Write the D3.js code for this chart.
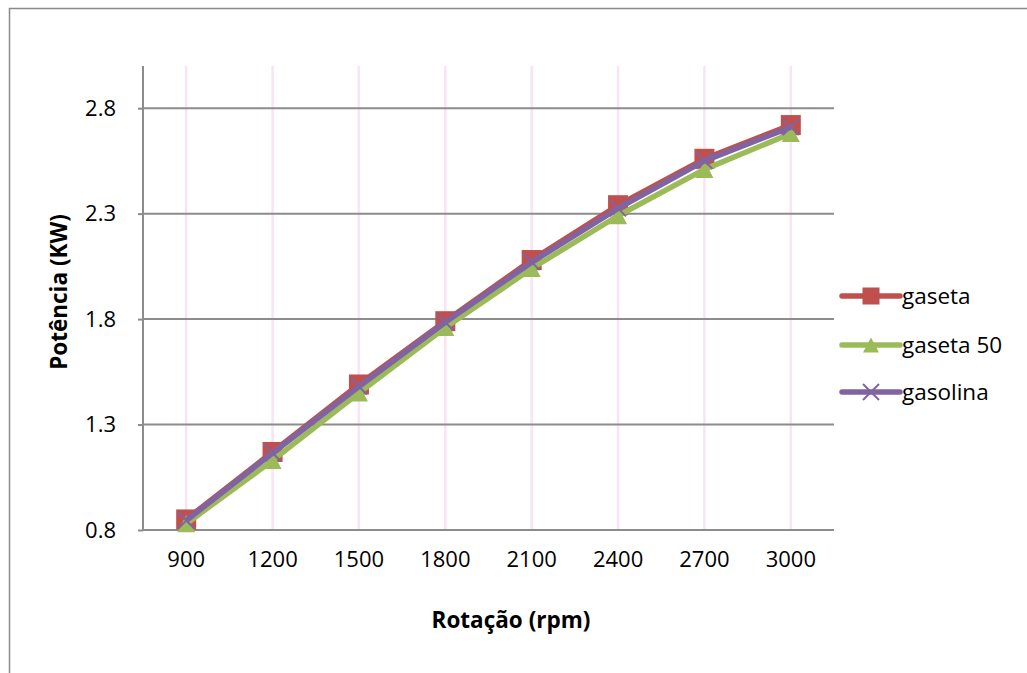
<!DOCTYPE html>
<html>
<head>
<meta charset="utf-8">
<script src="https://cdn.jsdelivr.net/npm/d3@7"></script>
<style>
  html, body { margin: 0; padding: 0; background: #fff; }
  svg { display: block; }
</style>
</head>
<body>
<svg id="chart" width="1027" height="673"></svg>
<script>
// Engine speed categories (rpm)
const rotacao = ["900", "1200", "1500", "1800", "2100", "2400", "2700", "3000"];
// Power output (kW) per fuel
const gaseta = [0.85, 1.17, 1.49, 1.79, 2.08, 2.34, 2.56, 2.72];
const gaseta50 = [0.83, 1.13, 1.45, 1.76, 2.04, 2.29, 2.51, 2.68];
const gasolina = [0.845, 1.165, 1.48, 1.785, 2.07, 2.325, 2.55, 2.71];
const yTicks = [0.8, 1.3, 1.8, 2.3, 2.8];
const seriesNames = ["gaseta", "gaseta 50", "gasolina"];

const series = [
  { name: seriesNames[0], values: gaseta, color: "#C0504D", marker: "square" },
  { name: seriesNames[1], values: gaseta50, color: "#9BBB59", marker: "triangle" },
  { name: seriesNames[2], values: gasolina, color: "#8064A2", marker: "cross" }
];

const svg = d3.select("#chart");
const font = "'Open Sans', 'Noto Sans', sans-serif";

// outer chart frame
svg.append("rect")
  .attr("x", 9.5).attr("y", 8.5)
  .attr("width", 1100).attr("height", 700)
  .attr("fill", "#fff").attr("stroke", "#8a8a8a").attr("stroke-width", 1.5);

const plot = { left: 143, right: 834, top: 66, bottom: 530 };

const x = d3.scaleBand().domain(rotacao).range([plot.left, plot.right]).padding(0);
const y = d3.scaleLinear().domain([0.8, 3.0]).range([plot.bottom, plot.top]);
const cx = d => x(d) + x.bandwidth() / 2;

// vertical pink gridlines at categories
svg.append("g").selectAll("line").data(rotacao).join("line")
  .attr("x1", d => cx(d)).attr("x2", d => cx(d))
  .attr("y1", plot.top).attr("y2", plot.bottom)
  .attr("stroke", "#FAE3F4").attr("stroke-width", 2.5);

// horizontal gridlines
svg.append("g").selectAll("line").data(yTicks.slice(1)).join("line")
  .attr("x1", plot.left).attr("x2", plot.right)
  .attr("y1", d => y(d)).attr("y2", d => y(d))
  .attr("stroke", "#8c8c8c").attr("stroke-width", 2);

// y axis
const yAxis = d3.axisLeft(y).tickValues(yTicks).tickFormat(d3.format(".1f")).tickSize(5).tickPadding(22);
const gy = svg.append("g").attr("transform", `translate(${plot.left},0)`).call(yAxis);
gy.select(".domain").remove();
gy.selectAll(".tick line").attr("stroke", "#8c8c8c").attr("stroke-width", 2);
gy.selectAll(".tick text").attr("font-family", font).attr("font-size", 22).attr("fill", "#000");
svg.append("line")
  .attr("x1", plot.left).attr("x2", plot.left)
  .attr("y1", plot.top).attr("y2", plot.bottom)
  .attr("stroke", "#8c8c8c").attr("stroke-width", 2);

// x axis
const xAxis = d3.axisBottom(x).tickSize(0).tickPadding(21);
const gx = svg.append("g").attr("transform", `translate(0,${plot.bottom})`).call(xAxis);
gx.select(".domain").remove();
gx.selectAll(".tick text").attr("font-family", font).attr("font-size", 22).attr("fill", "#000");
svg.append("line")
  .attr("x1", plot.left - 1).attr("x2", plot.right)
  .attr("y1", plot.bottom).attr("y2", plot.bottom)
  .attr("stroke", "#8c8c8c").attr("stroke-width", 2);

// axis titles
svg.append("text")
  .attr("transform", `translate(67,${(plot.top + plot.bottom) / 2 - 6}) rotate(-90)`)
  .attr("text-anchor", "middle")
  .attr("font-family", font).attr("font-weight", "bold").attr("font-size", 22.5)
  .text("Potência (KW)");
svg.append("text")
  .attr("x", 511).attr("y", 628)
  .attr("text-anchor", "middle")
  .attr("font-family", font).attr("font-weight", "bold").attr("font-size", 22.5)
  .text("Rotação (rpm)");

// marker drawing
function drawMarker(g, type, color, size) {
  if (type === "square") {
    g.append("rect").attr("x", -size / 2).attr("y", -size / 2)
      .attr("width", size).attr("height", size).attr("fill", color);
  } else if (type === "triangle") {
    const h = size * 0.95, w = size;
    g.append("path")
      .attr("d", `M0,${-h / 2}L${w / 2},${h / 2}L${-w / 2},${h / 2}Z`)
      .attr("fill", color);
  } else {
    const s = size / 2;
    g.append("path")
      .attr("d", `M${-s},${-s}L${s},${s}M${-s},${s}L${s},${-s}`)
      .attr("stroke", color).attr("stroke-width", 2).attr("fill", "none");
  }
}

const line = d3.line().x((d, i) => cx(rotacao[i])).y(d => y(d));
const markerSize = { square: 20, triangle: 18, cross: 16 };

series.forEach(s => {
  const g = svg.append("g");
  g.append("path").datum(s.values)
    .attr("d", line).attr("fill", "none")
    .attr("stroke", s.color).attr("stroke-width", 5.5)
    .attr("stroke-linejoin", "round");
  s.values.forEach((v, i) => {
    const m = g.append("g").attr("transform", `translate(${cx(rotacao[i])},${y(v)})`);
    drawMarker(m, s.marker, s.color, markerSize[s.marker]);
  });
});

// legend
const legend = svg.append("g");
const legendY = [296, 345, 392];
series.forEach((s, i) => {
  const g = legend.append("g").attr("transform", `translate(0,${legendY[i]})`);
  g.append("line").attr("x1", 842).attr("x2", 900).attr("y1", 0).attr("y2", 0)
    .attr("stroke", s.color).attr("stroke-width", 5.5).attr("stroke-linecap", "round");
  const m = g.append("g").attr("transform", "translate(871,0)");
  drawMarker(m, s.marker, s.color, s.marker === "square" ? 17 : 16);
  g.append("text").attr("x", 902).attr("y", 0).attr("dy", "0.35em")
    .attr("font-family", font).attr("font-size", 22.5).attr("fill", "#000")
    .text(s.name);
});
</script>
</body>
</html>
